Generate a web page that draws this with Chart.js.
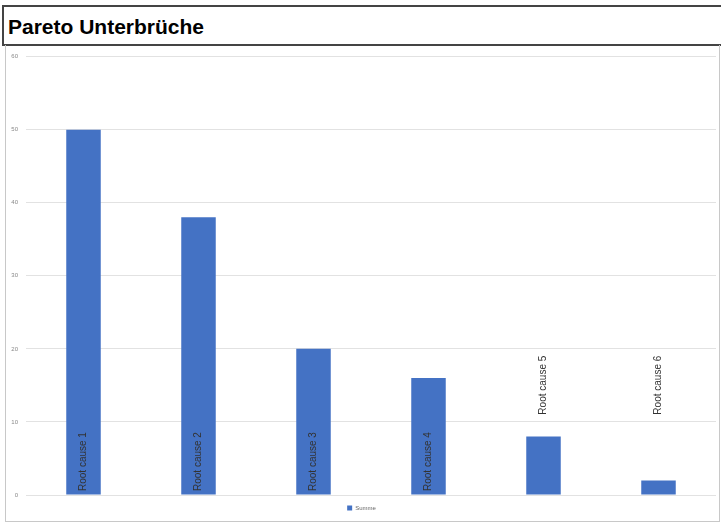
<!DOCTYPE html>
<html>
<head>
<meta charset="utf-8">
<script src="https://cdn.jsdelivr.net/npm/chart.js@4"></script>
<style>
  body { margin: 0; background: #fff; font-family: "Liberation Sans", Arial, sans-serif; }
  #title {
    position: absolute; left: 2px; top: 5px; width: 713px; height: 37px;
    border: 2px solid #444; background: #fff;
    font-weight: bold; font-size: 21px; line-height: 39px; padding-left: 4px; color: #000;
  }
  #box {
    position: absolute; left: 5px; top: 45px; width: 713px; height: 476px;
    border: 1px solid #c8c8c8; border-top: none;
  }
  #chartWrap { position: absolute; left: 1px; top: 0; width: 712px; height: 476px; }
</style>
</head>
<body>
<div id="title">Pareto Unterbrüche</div>
<div id="box"><div id="chartWrap"><canvas id="paretoChart"></canvas></div></div>
<script>
const categories = ['Root cause 1', 'Root cause 2', 'Root cause 3', 'Root cause 4', 'Root cause 5', 'Root cause 6'];
const counts = [50, 38, 20, 16, 8, 2];
const seriesName = 'Summe';

// category names written inside / above the bars
const barLabels = {
    id: 'barLabels',
    afterDatasetsDraw(chart) {
        const ctx = chart.ctx;
        const yScale = chart.scales.y;
        const meta = chart.getDatasetMeta(0);
        ctx.save();
        ctx.font = '10px "Liberation Sans", Arial, sans-serif';
        ctx.fillStyle = '#333';
        ctx.textBaseline = 'middle';
        ctx.textAlign = 'left';
        meta.data.forEach(function (bar, i) {
            const textW = ctx.measureText(categories[i]).width;
            let start = yScale.getPixelForValue(0) - 4;
            if (start - bar.y < textW + 8) {
                start = yScale.getPixelForValue(11);
            }
            ctx.save();
            ctx.translate(bar.x, start);
            ctx.rotate(-Math.PI / 2);
            ctx.fillText(categories[i], 0, 0);
            ctx.restore();
        });
        ctx.restore();
    }
};

const paretoCtx = document.getElementById('paretoChart').getContext('2d');
const paretoChart = new Chart(paretoCtx, {
    type: 'bar',
    data: {
        labels: categories,
        datasets: [{
            label: seriesName,
            data: counts,
            backgroundColor: '#4472C4',
            borderWidth: 0,
            categoryPercentage: 1,
            barPercentage: 0.3
        }]
    },
    options: {
        responsive: true,
        maintainAspectRatio: false,
        animation: false,
        layout: {
            padding: { top: 9, right: 3, left: 0, bottom: 0 }
        },
        plugins: {
            legend: {
                position: 'bottom',
                labels: {
                    boxWidth: 5,
                    boxHeight: 5,
                    padding: 5,
                    color: '#666',
                    font: { size: 6, family: '"Liberation Sans", Arial, sans-serif' }
                }
            },
            tooltip: { enabled: false }
        },
        scales: {
            y: {
                min: 0,
                max: 60,
                ticks: {
                    stepSize: 10,
                    color: '#888',
                    padding: 8,
                    font: { size: 6, family: '"Liberation Sans", Arial, sans-serif' }
                },
                grid: { color: '#e2e2e2', drawTicks: false },
                border: { display: false },
                afterFit: function (scale) { scale.width = 19; }
            },
            x: {
                ticks: { display: false },
                grid: { display: false },
                border: { display: false },
                afterFit: function (scale) { scale.height = 5; }
            }
        }
    },
    plugins: [barLabels]
});
</script>
</body>
</html>
